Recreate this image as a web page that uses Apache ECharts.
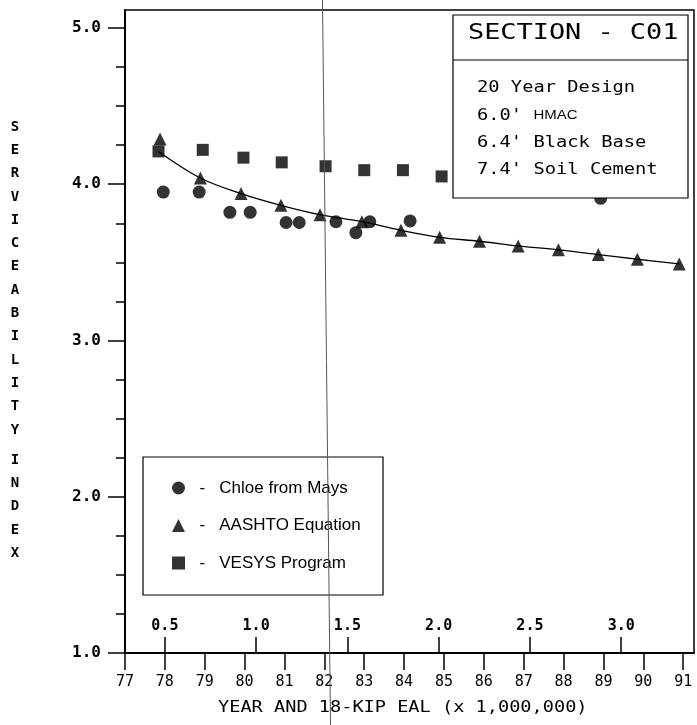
<!DOCTYPE html>
<html>
<head>
<meta charset="utf-8">
<script src="https://cdn.jsdelivr.net/npm/echarts@6/dist/echarts.min.js"></script>
<style>
  html, body { margin: 0; padding: 0; background: #fff; }
  #chart { width: 697px; height: 725px; }
</style>
</head>
<body>
<div id="chart"></div>
<script>
// ---- Axis ranges ----
const yearMin = 77;
const yearMax = 91.27;
const yearTickStep = 1;
const psiMin = 1;
const psiMax = 5.115;          // frame extends a little above the 5.0 tick
const psiMajorTicks = [1, 2, 3, 4, 5];
const psiMinorTicks = [1.25, 1.5, 1.75, 2.25, 2.5, 2.75, 3.25, 3.5, 3.75, 4.25, 4.5, 4.75];

// 18-kip EAL (millions) accumulated per year, with 0.5 million reached in 1978
const ealRefYear = 78;
const ealAtRefYear = 0.5;
const ealPerYear = 0.21846;
const ealTicks = [0.5, 1.0, 1.5, 2.0, 2.5, 3.0];

// ---- Serviceability data ----
const chloeYears  = [77.96, 78.86, 79.63, 80.14, 81.04, 81.37, 82.29, 82.79, 83.14, 84.15, 88.93];
const chloeValues = [3.95, 3.95, 3.82, 3.82, 3.755, 3.755, 3.76, 3.69, 3.76, 3.765, 3.91];

const aashtoYears  = [77.88, 78.89, 79.91, 80.91, 81.89, 82.94, 83.92, 84.89, 85.89, 86.86, 87.87, 88.87, 89.85, 90.90];
const aashtoValues = [4.29, 4.04, 3.94, 3.865, 3.805, 3.76, 3.705, 3.66, 3.635, 3.605, 3.58, 3.55, 3.52, 3.49];

const vesysYears  = [77.84, 78.95, 79.97, 80.93, 82.03, 83.00, 83.97, 84.94];
const vesysValues = [4.21, 4.22, 4.17, 4.14, 4.115, 4.09, 4.09, 4.05];

// fitted AASHTO curve
const fitYears  = [77.84, 78.89, 79.91, 80.91, 81.89, 82.94, 83.92, 84.89, 85.89, 86.86, 87.87, 88.87, 89.85, 90.90];
const fitValues = [4.21, 4.04, 3.94, 3.865, 3.805, 3.76, 3.705, 3.66, 3.635, 3.605, 3.58, 3.55, 3.52, 3.49];

const sectionTitle = 'SECTION - C01';
const sectionLines = ["20 Year Design", "6.0' {s|HMAC}", "6.4' Black Base", "7.4' Soil Cement"];
const legendNames = ['Chloe from Mays', 'AASHTO Equation', 'VESYS Program'];
const xTitle = 'YEAR AND 18-KIP EAL (x 1,000,000)';
const yTitleTop = 'SERVICEABILITY';
const yTitleBottom = 'INDEX';

const pair = (xs, ys) => xs.map((x, i) => [x, ys[i]]);
const toEal = yr => ealAtRefYear + (yr - ealRefYear) * ealPerYear;

const MONO = "'DejaVu Sans Mono', monospace";
const SANS = "'Liberation Sans', Arial, sans-serif";

const chart = echarts.init(document.getElementById('chart'), null, { renderer: 'canvas' });

const option = {
  animation: false,
  backgroundColor: '#fff',
  grid: {
    left: 125, right: 3, top: 10, bottom: 72,
    show: true, borderColor: '#000', borderWidth: 1.5
  },
  xAxis: [
    {
      type: 'value', min: yearMin, max: yearMax, interval: yearTickStep,
      position: 'bottom',
      axisLine: { lineStyle: { color: '#000', width: 2 } },
      axisTick: { show: true, inside: false, length: 17, lineStyle: { color: '#000', width: 1.5 } },
      axisLabel: {
        color: '#000', fontFamily: MONO, fontSize: 15, margin: 22,
        showMaxLabel: false, showMinLabel: true
      },
      splitLine: { show: false }
    },
    {
      type: 'value', min: toEal(yearMin), max: toEal(yearMax),
      position: 'bottom',
      axisLine: { show: false },
      axisTick: { show: true, inside: true, length: 16, customValues: ealTicks,
                  lineStyle: { color: '#000', width: 1.5 } },
      axisLabel: { inside: true, margin: 19, customValues: ealTicks, color: '#000',
                   fontFamily: MONO, fontWeight: 'bold', fontSize: 15,
                   formatter: v => v.toFixed(1) },
      splitLine: { show: false }
    }
  ],
  yAxis: [
    {
      type: 'value', min: psiMin, max: psiMax,
      axisLine: { show: true, lineStyle: { color: '#000', width: 2 } },
      axisTick: { show: true, length: 17, customValues: psiMajorTicks,
                  lineStyle: { color: '#000', width: 1.5 } },
      axisLabel: { color: '#000', fontFamily: MONO, fontWeight: 'bold', fontSize: 16, margin: 24,
                   customValues: psiMajorTicks, formatter: v => v.toFixed(1) },
      splitLine: { show: false }
    },
    {
      // quarter-point ticks on the same scale
      type: 'value', min: psiMin, max: psiMax, position: 'left',
      axisLine: { show: false },
      axisTick: { show: true, length: 9, customValues: psiMinorTicks,
                  lineStyle: { color: '#000', width: 1.5 } },
      axisLabel: { show: false },
      splitLine: { show: false }
    }
  ],
  legend: {
    data: legendNames,
    orient: 'vertical',
    left: 167, top: 473,
    itemWidth: 13, itemHeight: 13, itemGap: 17.5,
    textStyle: { color: '#000', fontFamily: SANS, fontSize: 17, lineHeight: 20 },
    formatter: name => '  -   ' + name,
    selectedMode: false
  },
  series: [
    {
      name: 'AASHTO fit', type: 'line', xAxisIndex: 0, yAxisIndex: 0,
      data: pair(fitYears, fitValues),
      smooth: 0.35, showSymbol: false, symbol: 'none',
      lineStyle: { color: '#000', width: 1.3 }, z: 1, silent: true
    },
    {
      name: 'Chloe from Mays', type: 'scatter', xAxisIndex: 0, yAxisIndex: 0,
      data: pair(chloeYears, chloeValues),
      symbol: 'circle', symbolSize: 13, itemStyle: { color: '#000' }, z: 3
    },
    {
      name: 'AASHTO Equation', type: 'scatter', xAxisIndex: 0, yAxisIndex: 0,
      data: pair(aashtoYears, aashtoValues),
      symbol: 'triangle', symbolSize: [13, 13], itemStyle: { color: '#000' }, z: 3
    },
    {
      name: 'VESYS Program', type: 'scatter', xAxisIndex: 0, yAxisIndex: 0,
      data: pair(vesysYears, vesysValues),
      symbol: 'rect', symbolSize: 12, itemStyle: { color: '#000' }, z: 3
    }
  ],
  graphic: [
    // section description box (opaque, drawn over the data)
    {
      type: 'rect', z: 100,
      shape: { x: 453, y: 15, width: 235, height: 183 },
      style: { fill: '#fff', stroke: '#000', lineWidth: 1.2 }
    },
    {
      type: 'line', z: 101,
      shape: { x1: 453, y1: 60, x2: 688, y2: 60 },
      style: { stroke: '#000', lineWidth: 1.2 }
    },
    {
      type: 'text', z: 102, x: 468, y: 34, scaleX: 1.28,
      style: { text: sectionTitle, fill: '#000', font: "21px " + MONO,
               align: 'left', verticalAlign: 'middle' }
    },
    ...sectionLines.map((t, i) => ({
      type: 'text', z: 102, x: 477, y: 88.3 + i * 27.4, scaleX: 1.25,
      style: { text: t, fill: '#000', font: "15px " + MONO,
               align: 'left', verticalAlign: 'middle',
               rich: { s: { fontFamily: SANS, fontSize: 12, fill: '#000' } } }
    })),
    // legend frame
    {
      type: 'rect', z: 5,
      shape: { x: 143, y: 457, width: 240, height: 138 },
      style: { fill: 'none', stroke: '#000', lineWidth: 1.2 }
    },
    // axis titles
    {
      type: 'text', z: 10, x: 218, y: 708, scaleX: 1.24,
      style: { text: xTitle, fill: '#000', font: "15px " + MONO,
               align: 'left', verticalAlign: 'middle' }
    },
    {
      type: 'text', z: 10, x: 15, y: 127 - 11.65,
      style: { text: yTitleTop.split('').join('\n'), fill: '#000',
               font: "bold 14px " + MONO, lineHeight: 23.3,
               align: 'center', verticalAlign: 'top' }
    },
    {
      type: 'text', z: 10, x: 15, y: 460 - 11.65,
      style: { text: yTitleBottom.split('').join('\n'), fill: '#000',
               font: "bold 14px " + MONO, lineHeight: 23.3,
               align: 'center', verticalAlign: 'top' }
    },
    // thin vertical rule crossing the sheet
    {
      type: 'line', z: 200, silent: true,
      shape: { x1: 322.5, y1: 0, x2: 330.5, y2: 725 },
      style: { stroke: '#555', lineWidth: 1 }
    }
  ]
};

chart.setOption(option);
</script>
</body>
</html>
